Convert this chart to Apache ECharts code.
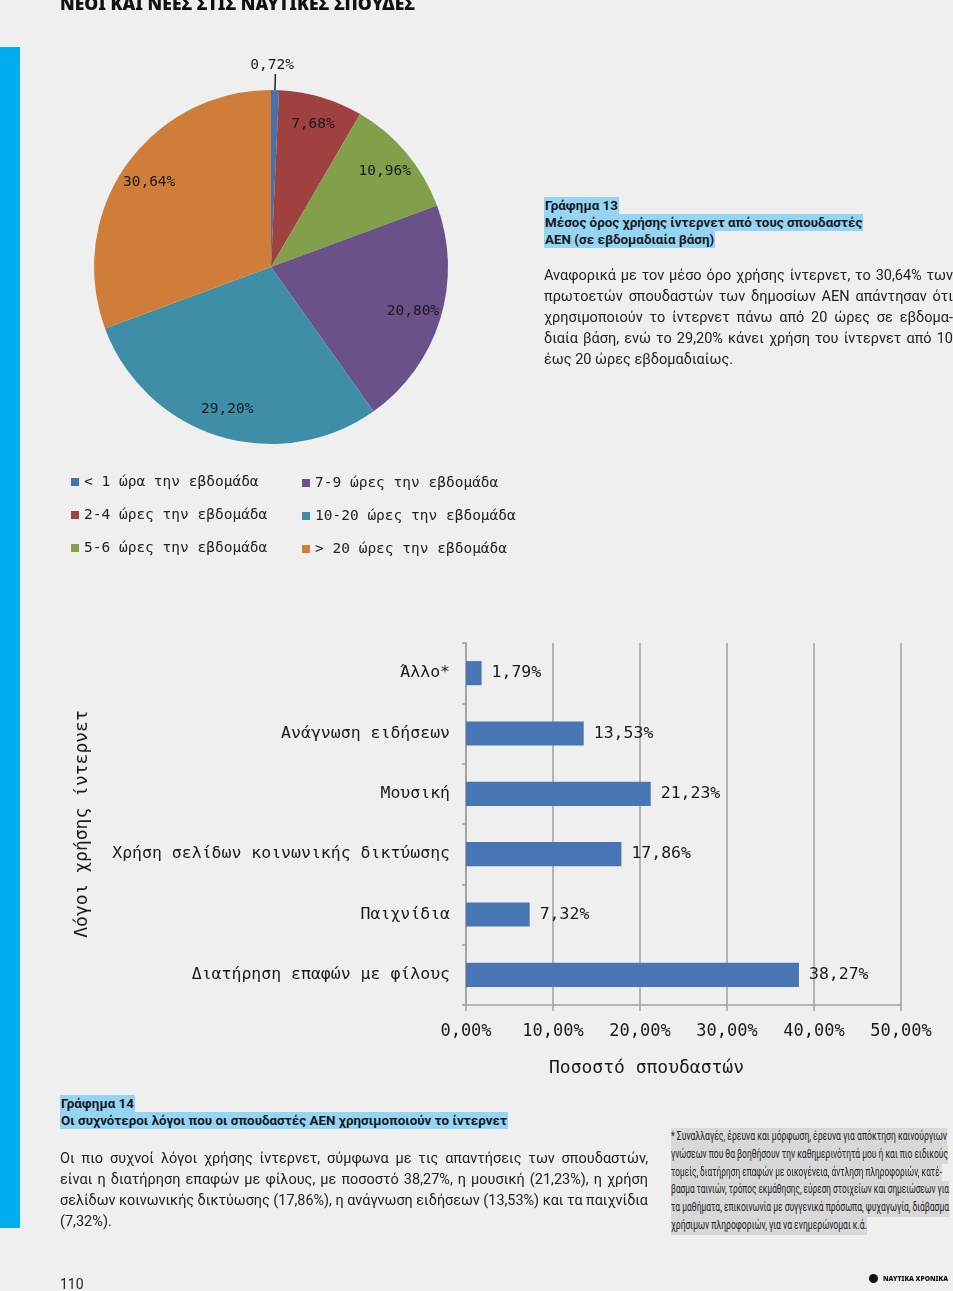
<!DOCTYPE html>
<html><head><meta charset="utf-8">
<script src="https://cdn.jsdelivr.net/npm/echarts@6/dist/echarts.min.js"></script>
<style>
html,body{margin:0;padding:0;background:#efefef;}
#page{position:relative;width:953px;height:1291px;overflow:hidden;background:#efefef;}
#chart{position:absolute;left:0;top:0;width:953px;height:1291px;}
.abs{position:absolute;z-index:2;color:#1e1e1e;}
.ln{display:block;white-space:nowrap;}
.ln > span{display:inline-block;white-space:nowrap;transform-origin:left center;}
.body{font-family:Roboto,"Noto Sans",sans-serif;font-size:14.5px;line-height:21px;color:#222;}
.head{font-family:Roboto,"Noto Sans",sans-serif;font-weight:bold;font-size:13.4px;line-height:17px;color:#1a1a1a;}
.head span{background:#94d4f4;padding:0 1px;}
.foot{font-family:"Liberation Sans Narrow",Roboto,sans-serif;font-size:12px;line-height:17.8px;color:#222;}
.foot span{background:#d8d8d8;}
</style></head>
<body><div id="page">
<div id="chart"></div>
<div class="abs" style="left:0;top:47px;width:20px;height:1181px;background:#00aeef;"></div>
<div class="abs" style="left:60px;top:-6px;font-family:'Noto Sans',sans-serif;font-weight:900;font-size:17px;line-height:20px;color:#111;white-space:nowrap;"><span class="fit" data-w="355" data-mode="s" style="display:inline-block;transform-origin:left center;">ΝΕΟΙ ΚΑΙ ΝΕΕΣ ΣΤΙΣ ΝΑΥΤΙΚΕΣ ΣΠΟΥΔΕΣ</span></div>

<div class="abs head" style="left:544px;top:197px;">
<div class="ln"><span>Γράφημα 13</span></div>
<div class="ln"><span>Μέσος όρος χρήσης ίντερνετ από τους σπουδαστές</span></div>
<div class="ln"><span>ΑΕΝ (σε εβδομαδιαία βάση)</span></div>
</div>

<div class="abs body" style="left:544px;top:265px;">
<div class="ln"><span class="fit" data-w="409" data-mode="j">Αναφορικά με τον μέσο όρο χρήσης ίντερνετ, το 30,64% των</span></div>
<div class="ln"><span class="fit" data-w="409" data-mode="j">πρωτοετών σπουδαστών των δημοσίων ΑΕΝ απάντησαν ότι</span></div>
<div class="ln"><span class="fit" data-w="409" data-mode="j">χρησιμοποιούν το ίντερνετ πάνω από 20 ώρες σε εβδομα-</span></div>
<div class="ln"><span class="fit" data-w="409" data-mode="j">διαία βάση, ενώ το 29,20% κάνει χρήση του ίντερνετ από 10</span></div>
<div class="ln"><span>έως 20 ώρες εβδομαδιαίως.</span></div>
</div>

<div class="abs head" style="left:60px;top:1095px;">
<div class="ln"><span>Γράφημα 14</span></div>
<div class="ln"><span>Οι συχνότεροι λόγοι που οι σπουδαστές ΑΕΝ χρησιμοποιούν το ίντερνετ</span></div>
</div>

<div class="abs body" style="left:60px;top:1148px;">
<div class="ln"><span class="fit" data-w="588" data-mode="j">Οι πιο συχνοί λόγοι χρήσης ίντερνετ, σύμφωνα με τις απαντήσεις των σπουδαστών,</span></div>
<div class="ln"><span class="fit" data-w="588" data-mode="j">είναι η διατήρηση επαφών με φίλους, με ποσοστό 38,27%, η μουσική (21,23%), η χρήση</span></div>
<div class="ln"><span class="fit" data-w="588" data-mode="j">σελίδων κοινωνικής δικτύωσης (17,86%), η ανάγνωση ειδήσεων (13,53%) και τα παιχνίδια</span></div>
<div class="ln"><span>(7,32%).</span></div>
</div>

<div class="abs foot" style="left:671px;top:1128px;">
<div class="ln"><span class="fit" data-w="276" data-mode="s">* Συναλλαγές, έρευνα και μόρφωση, έρευνα για απόκτηση καινούργιων</span></div>
<div class="ln"><span class="fit" data-w="277" data-mode="s">γνώσεων που θα βοηθήσουν την καθημερινότητά μου ή και πιο ειδικούς</span></div>
<div class="ln"><span class="fit" data-w="271" data-mode="s">τομείς, διατήρηση επαφών με οικογένεια, άντληση πληροφοριών, κατέ-</span></div>
<div class="ln"><span class="fit" data-w="278" data-mode="s">βασμα ταινιών, τρόπος εκμάθησης, εύρεση στοιχείων και σημειώσεων για</span></div>
<div class="ln"><span class="fit" data-w="278" data-mode="s">τα μαθήματα, επικοινωνία με συγγενικά πρόσωπα, ψυχαγωγία, διάβασμα</span></div>
<div class="ln"><span class="fit" data-w="196" data-mode="s">χρήσιμων πληροφοριών, για να ενημερώνομαι κ.ά.</span></div>
</div>

<div class="abs" style="left:60px;top:1275px;font-family:Roboto,sans-serif;font-size:14px;line-height:18px;color:#222;">110</div>
<div class="abs" style="left:869px;top:1274px;width:9px;height:9px;border-radius:50%;background:#111;"></div>
<div class="abs" style="left:883px;top:1273px;font-family:'Noto Sans',sans-serif;font-weight:900;font-size:7.5px;line-height:11px;color:#111;white-space:nowrap;"><span class="fit" data-w="65" data-mode="s" style="display:inline-block;transform-origin:left center;">ΝΑΥΤΙΚΑ ΧΡΟΝΙΚΑ</span></div>
</div>
<script>
// ---- data ----
const pieNames = ['< 1 ώρα την εβδομάδα','2-4 ώρες την εβδομάδα','5-6 ώρες την εβδομάδα','7-9 ώρες την εβδομάδα','10-20 ώρες την εβδομάδα','> 20 ώρες την εβδομάδα'];
const pieValues = [0.72, 7.68, 10.96, 20.80, 29.20, 30.64];
const pieColors = ['#4672b1','#9f413e','#82a04a','#6a5189','#3e8ea7','#cf7d38'];
const barCategories = ['Άλλο*','Ανάγνωση ειδήσεων','Μουσική','Χρήση σελίδων κοινωνικής δικτύωσης','Παιχνίδια','Διατήρηση επαφών με φίλους'];
const barValues = [1.79, 13.53, 21.23, 17.86, 7.32, 38.27];
const xMin = 0, xMax = 50, xStep = 10;
const xName = 'Ποσοστό σπουδαστών';
const yName = 'Λόγοι χρήσης ίντερνετ';

const mono = '"DejaVu Sans Mono", monospace';
const fmt = v => Number(v).toFixed(2).replace('.', ',') + '%';
const ink = '#1a1a1a';
const gridGray = '#a0a0a0';

const chart = echarts.init(document.getElementById('chart'), null, {renderer:'canvas'});
const legendBase = {orient:'vertical', icon:'rect', itemWidth:8, itemHeight:8, itemGap:17, padding:0,
  selectedMode:false, textStyle:{fontFamily:mono, fontSize:14.5, color:'#222', lineHeight:16}};
chart.setOption({
  backgroundColor:'#efefef',
  animation:false,
  legend:[
    Object.assign({}, legendBase, {data:pieNames.slice(0,3), left:71, top:474}),
    Object.assign({}, legendBase, {data:pieNames.slice(3), left:302, top:475})
  ],
  grid:{left:466, top:643, width:435, height:362, containLabel:false},
  xAxis:{type:'value', min:xMin, max:xMax, interval:xStep,
    axisLine:{show:true, lineStyle:{color:gridGray, width:1.5}},
    axisTick:{show:true, length:6, lineStyle:{color:gridGray, width:1.5}},
    splitLine:{show:true, lineStyle:{color:gridGray, width:1.5}},
    axisLabel:{formatter:fmt, fontFamily:mono, fontSize:17, color:ink, margin:18},
    name:xName, nameLocation:'middle', nameGap:54,
    nameTextStyle:{fontFamily:mono, fontSize:18, color:ink, padding:[0,74,0,0]}},
  yAxis:{type:'category', inverse:true, data:barCategories,
    axisLine:{show:true, lineStyle:{color:gridGray, width:1.5}},
    axisTick:{show:true, length:4, lineStyle:{color:gridGray, width:1.5}},
    axisLabel:{fontFamily:mono, fontSize:16.5, color:ink, margin:16},
    splitLine:{show:false},
    name:yName, nameLocation:'middle', nameGap:375, nameRotate:90,
    nameTextStyle:{fontFamily:mono, fontSize:18, color:ink}},
  series:[
    {type:'pie', center:[271,267], radius:177, startAngle:90, clockwise:true,
      avoidLabelOverlap:false, emphasis:{disabled:true},
      data:pieNames.map((n,i)=>({name:n, value:pieValues[i], itemStyle:{color:pieColors[i]},
        label:{show:i===0}, labelLine:{show:i===0}})),
      label:{position:'outside', formatter:p=>fmt(p.value), fontFamily:mono, fontSize:14.5, color:ink},
      labelLine:{length:16, length2:0, lineStyle:{color:'#222', width:1.5}},
      labelLayout:p=> p.dataIndex===0 ? {dx:-30, dy:-9} : {}
    },
    {type:'pie', center:[271,267], radius:[114,177], startAngle:90, clockwise:true, silent:true,
      avoidLabelOverlap:false, emphasis:{disabled:true},
      itemStyle:{color:'rgba(0,0,0,0)'},
      data:pieNames.map((n,i)=>({name:n, value:pieValues[i], label:{show:i!==0}})),
      label:{position:'inside', formatter:p=>fmt(p.value), fontFamily:mono, fontSize:14.5, color:ink},
      labelLine:{show:false}
    },
    {type:'bar', data:barValues, barCategoryGap:'60%', itemStyle:{color:'#4876b4'},
      label:{show:true, position:'right', distance:10, formatter:p=>fmt(p.value), fontFamily:mono, fontSize:16.5, color:ink}}
  ]
});

// fit text lines
document.querySelectorAll('.fit').forEach(el=>{
  const tw = +el.dataset.w;
  const w = el.getBoundingClientRect().width;
  if (el.dataset.mode === 'j') {
    const spaces = (el.textContent.match(/ /g)||[]).length;
    if (w < tw && spaces) el.style.wordSpacing = ((tw - w)/spaces) + 'px';
    else if (w > tw) el.style.transform = 'scaleX(' + (tw/w) + ')';
  } else {
    el.style.transform = 'scaleX(' + (tw/w) + ')';
  }
});
</script>
</body></html>
